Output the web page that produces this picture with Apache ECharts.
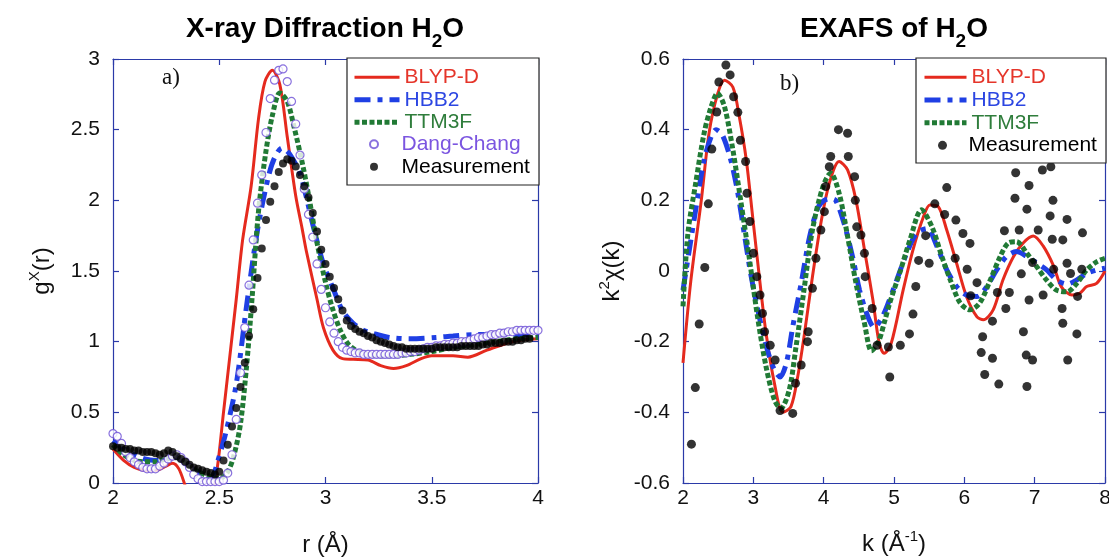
<!DOCTYPE html>
<html>
<head>
<meta charset="utf-8">
<script src="https://cdn.jsdelivr.net/npm/echarts@6/dist/echarts.min.js"></script>
<style>
  html, body { margin: 0; padding: 0; background: #ffffff; }
  #chart { width: 1109px; height: 557px; }
</style>
</head>
<body>
<div id="chart"></div>
<script>
// ---------- Panel a: X-ray diffraction, g(r) vs r (Å) ----------
const rTicks = [2, 2.5, 3, 3.5, 4];
const gTicks = [0, 0.5, 1, 1.5, 2, 2.5, 3];

const blypXrd = [[2.00,0.24],[2.05,0.16],[2.10,0.11],[2.15,0.09],[2.20,0.09],[2.25,0.12],[2.28,0.14],[2.31,0.10],[2.34,-0.02],[2.38,-0.18],[2.42,-0.22],[2.46,-0.10],[2.49,0.10],[2.52,0.50],[2.55,0.90],[2.58,1.30],[2.61,1.72],[2.65,2.10],[2.685,2.58],[2.715,2.84],[2.75,2.92],[2.785,2.82],[2.82,2.45],[2.86,2.03],[2.89,1.80],[2.91,1.64],[2.96,1.30],[2.99,1.10],[3.035,0.94],[3.08,0.88],[3.13,0.875],[3.20,0.87],[3.26,0.83],[3.32,0.81],[3.38,0.83],[3.45,0.88],[3.50,0.90],[3.60,0.90],[3.67,0.89],[3.76,0.94],[3.88,1.00],[4.00,1.02]];

const hbb2Xrd = [[2.00,0.30],[2.05,0.24],[2.10,0.20],[2.15,0.17],[2.20,0.16],[2.25,0.17],[2.30,0.18],[2.35,0.13],[2.40,0.08],[2.45,0.04],[2.47,0.05],[2.494,0.16],[2.53,0.35],[2.58,0.70],[2.63,1.27],[2.68,1.79],[2.73,2.16],[2.76,2.30],[2.795,2.37],[2.83,2.33],[2.88,2.19],[2.91,2.02],[2.94,1.83],[2.99,1.55],[3.035,1.38],[3.08,1.22],[3.13,1.13],[3.18,1.08],[3.22,1.06],[3.30,1.03],[3.40,1.02],[3.52,1.03],[3.60,1.04],[3.70,1.05],[3.80,1.05],[3.90,1.05],[4.00,1.05]];

const ttm3fXrd = [[2.00,0.27],[2.05,0.20],[2.10,0.16],[2.15,0.15],[2.20,0.15],[2.25,0.17],[2.30,0.18],[2.35,0.13],[2.40,0.08],[2.45,0.05],[2.50,0.03],[2.54,0.08],[2.57,0.20],[2.60,0.42],[2.63,0.85],[2.655,1.32],[2.675,1.75],[2.69,2.00],[2.72,2.35],[2.75,2.60],[2.785,2.76],[2.82,2.70],[2.855,2.50],[2.89,2.27],[2.92,2.04],[2.96,1.70],[3.00,1.42],[3.03,1.25],[3.07,1.08],[3.115,0.97],[3.19,0.91],[3.30,0.90],[3.40,0.91],[3.50,0.93],[3.60,0.96],[3.70,0.98],[3.80,1.00],[3.90,1.02],[4.00,1.03]];

const dangChangXrd = [[2.00,0.35],[2.02,0.33],[2.04,0.28],[2.06,0.22],[2.08,0.18],[2.10,0.15],[2.12,0.13],[2.14,0.11],[2.16,0.10],[2.18,0.10],[2.20,0.10],[2.22,0.12],[2.24,0.14],[2.26,0.17],[2.28,0.19],[2.30,0.20],[2.32,0.18],[2.34,0.15],[2.36,0.11],[2.38,0.06],[2.40,0.03],[2.42,0.01],[2.44,0.01],[2.46,0.01],[2.48,0.01],[2.50,0.01],[2.52,0.02],[2.54,0.07],[2.56,0.20],[2.58,0.45],[2.60,0.78],[2.62,1.10],[2.64,1.40],[2.66,1.72],[2.68,1.98],[2.70,2.18],[2.72,2.48],[2.74,2.72],[2.76,2.85],[2.78,2.92],[2.80,2.93],[2.82,2.84],[2.84,2.70],[2.86,2.54],[2.88,2.32],[2.90,2.08],[2.92,1.90],[2.94,1.74],[2.96,1.55],[2.98,1.37],[3.00,1.24],[3.02,1.14],[3.04,1.06],[3.06,1.00],[3.08,0.96],[3.10,0.94],[3.12,0.93],[3.14,0.92],[3.16,0.92],[3.18,0.91],[3.20,0.91],[3.22,0.91],[3.24,0.91],[3.26,0.91],[3.28,0.91],[3.30,0.91],[3.32,0.91],[3.34,0.91],[3.36,0.92],[3.38,0.92],[3.40,0.93],[3.42,0.93],[3.44,0.94],[3.46,0.95],[3.48,0.96],[3.50,0.96],[3.52,0.97],[3.54,0.97],[3.56,0.98],[3.58,0.98],[3.60,0.99],[3.62,0.99],[3.64,1.00],[3.66,1.00],[3.68,1.01],[3.70,1.02],[3.72,1.03],[3.74,1.03],[3.76,1.04],[3.78,1.05],[3.80,1.05],[3.82,1.06],[3.84,1.06],[3.86,1.07],[3.88,1.07],[3.90,1.08],[3.92,1.08],[3.94,1.08],[3.96,1.08],[3.98,1.08],[4.00,1.08]];

const measXrd = [[2.00,0.26],[2.02,0.25],[2.04,0.25],[2.06,0.24],[2.08,0.24],[2.10,0.23],[2.12,0.23],[2.14,0.22],[2.16,0.22],[2.18,0.22],[2.20,0.21],[2.22,0.20],[2.24,0.21],[2.26,0.23],[2.28,0.22],[2.30,0.19],[2.32,0.17],[2.34,0.15],[2.36,0.13],[2.38,0.11],[2.40,0.10],[2.42,0.09],[2.44,0.08],[2.46,0.07],[2.48,0.06],[2.50,0.08],[2.52,0.16],[2.54,0.27],[2.56,0.40],[2.58,0.53],[2.60,0.68],[2.62,0.85],[2.64,1.04],[2.66,1.23],[2.68,1.45],[2.70,1.66],[2.72,1.86],[2.74,1.99],[2.76,2.10],[2.78,2.20],[2.80,2.26],[2.82,2.29],[2.84,2.28],[2.86,2.24],[2.88,2.18],[2.90,2.10],[2.92,2.02],[2.94,1.91],[2.96,1.78],[2.98,1.65],[3.00,1.55],[3.02,1.46],[3.04,1.38],[3.06,1.30],[3.08,1.22],[3.10,1.15],[3.12,1.11],[3.14,1.09],[3.16,1.07],[3.18,1.06],[3.20,1.04],[3.22,1.03],[3.24,1.01],[3.26,1.00],[3.28,0.99],[3.30,0.98],[3.32,0.97],[3.34,0.96],[3.36,0.96],[3.38,0.95],[3.40,0.95],[3.42,0.95],[3.44,0.95],[3.46,0.95],[3.48,0.95],[3.50,0.95],[3.52,0.96],[3.54,0.96],[3.56,0.96],[3.58,0.96],[3.60,0.96],[3.62,0.96],[3.64,0.97],[3.66,0.97],[3.68,0.97],[3.70,0.97],[3.72,0.97],[3.74,0.98],[3.76,0.98],[3.78,0.99],[3.80,0.99],[3.82,0.99],[3.84,1.00],[3.86,1.00],[3.88,1.00],[3.90,1.01],[3.92,1.01],[3.94,1.02],[3.96,1.02]];

// ---------- Panel b: EXAFS, k^2 chi(k) vs k (Å^-1) ----------
const kTicks = [2, 3, 4, 5, 6, 7, 8];
const chiTicks = [-0.6, -0.4, -0.2, 0, 0.2, 0.4, 0.6];

const blypExafs = [[2.00,-0.26],[2.11,-0.03],[2.26,0.20],[2.37,0.39],[2.49,0.50],[2.59,0.54],[2.71,0.52],[2.80,0.437],[2.90,0.314],[2.99,0.154],[3.085,-0.016],[3.18,-0.175],[3.30,-0.318],[3.42,-0.40],[3.535,-0.384],[3.63,-0.30],[3.725,-0.18],[3.84,-0.017],[3.96,0.135],[4.08,0.248],[4.22,0.31],[4.34,0.286],[4.46,0.20],[4.58,0.06],[4.70,-0.082],[4.79,-0.205],[4.86,-0.233],[4.96,-0.205],[5.13,-0.054],[5.27,0.06],[5.42,0.154],[5.51,0.187],[5.63,0.182],[5.75,0.116],[5.89,0.022],[6.03,-0.072],[6.18,-0.13],[6.27,-0.138],[6.41,-0.11],[6.55,-0.025],[6.70,0.041],[6.84,0.08],[6.98,0.099],[7.12,0.071],[7.27,0.014],[7.38,-0.045],[7.53,-0.068],[7.64,-0.063],[7.74,-0.044],[7.88,-0.035],[8.00,0.00]];

const hbb2Exafs = [[2.00,-0.054],[2.09,0.06],[2.18,0.173],[2.30,0.314],[2.40,0.38],[2.47,0.40],[2.56,0.385],[2.68,0.314],[2.78,0.22],[2.87,0.107],[2.97,-0.016],[3.085,-0.13],[3.20,-0.224],[3.30,-0.28],[3.38,-0.30],[3.47,-0.26],[3.56,-0.158],[3.68,-0.035],[3.80,0.097],[3.92,0.18],[4.01,0.20],[4.09,0.205],[4.17,0.20],[4.29,0.135],[4.41,0.041],[4.51,-0.054],[4.63,-0.13],[4.72,-0.16],[4.82,-0.135],[4.90,-0.10],[5.04,-0.025],[5.18,0.05],[5.32,0.107],[5.47,0.12],[5.61,0.07],[5.75,0.003],[5.89,-0.044],[6.03,-0.068],[6.18,-0.072],[6.32,-0.044],[6.46,0.003],[6.60,0.041],[6.74,0.055],[6.89,0.041],[7.03,0.022],[7.17,0.003],[7.31,-0.025],[7.46,-0.037],[7.60,-0.025],[7.74,-0.007],[7.88,0.003],[8.00,0.008]];

const ttm3fExafs = [[2.00,-0.10],[2.07,0.107],[2.18,0.248],[2.30,0.39],[2.40,0.465],[2.49,0.503],[2.59,0.465],[2.71,0.342],[2.82,0.20],[2.94,0.04],[3.06,-0.13],[3.18,-0.27],[3.30,-0.365],[3.39,-0.389],[3.51,-0.337],[3.60,-0.224],[3.72,-0.054],[3.84,0.116],[3.99,0.239],[4.10,0.277],[4.22,0.22],[4.34,0.098],[4.46,-0.035],[4.58,-0.148],[4.68,-0.226],[4.78,-0.20],[4.87,-0.14],[4.94,-0.09],[5.09,0.00],[5.23,0.09],[5.39,0.173],[5.54,0.125],[5.68,0.041],[5.80,-0.025],[5.94,-0.09],[6.08,-0.11],[6.22,-0.09],[6.37,-0.025],[6.51,0.041],[6.63,0.08],[6.74,0.083],[6.89,0.05],[7.03,0.012],[7.17,-0.026],[7.31,-0.054],[7.46,-0.059],[7.60,-0.035],[7.74,0.003],[7.88,0.026],[8.00,0.036]];

const measExafs = [[2.12,-0.49],[2.175,-0.33],[2.23,-0.15],[2.31,0.01],[2.36,0.19],[2.41,0.345],[2.48,0.45],[2.51,0.535],[2.61,0.583],[2.67,0.555],[2.72,0.493],[2.78,0.449],[2.815,0.37],[2.89,0.31],[2.91,0.22],[2.95,0.14],[3.00,0.05],[3.05,-0.016],[3.095,-0.068],[3.13,-0.12],[3.16,-0.172],[3.24,-0.21],[3.31,-0.252],[3.38,-0.395],[3.56,-0.403],[3.60,-0.318],[3.68,-0.266],[3.77,-0.20],[3.78,-0.172],[3.84,-0.049],[3.89,0.036],[3.96,0.116],[4.01,0.168],[4.03,0.239],[4.08,0.295],[4.10,0.324],[4.21,0.40],[4.34,0.39],[4.35,0.324],[4.44,0.267],[4.45,0.20],[4.47,0.125],[4.53,0.102],[4.58,0.05],[4.59,-0.016],[4.69,-0.106],[4.76,-0.21],[4.92,-0.215],[4.94,-0.30],[5.09,-0.21],[5.22,-0.178],[5.27,-0.122],[5.31,-0.044],[5.35,0.03],[5.45,0.10],[5.50,0.022],[5.58,0.19],[5.72,0.16],[5.75,0.236],[5.87,0.036],[5.88,0.144],[5.98,0.106],[6.04,0.005],[6.08,0.078],[6.09,-0.07],[6.18,-0.033],[6.24,-0.231],[6.26,-0.186],[6.29,-0.293],[6.40,-0.142],[6.40,-0.247],[6.47,-0.061],[6.49,-0.32],[6.57,0.114],[6.59,-0.106],[6.64,-0.061],[6.72,0.206],[6.73,0.278],[6.78,0.116],[6.81,-0.008],[6.84,-0.172],[6.88,-0.238],[6.89,-0.327],[6.89,0.175],[6.92,0.242],[6.92,-0.082],[6.97,0.024],[6.97,-0.252],[7.05,0.116],[7.11,0.286],[7.12,-0.068],[7.22,0.156],[7.23,0.295],[7.25,0.09],[7.26,0.20],[7.27,0.005],[7.39,-0.106],[7.40,0.088],[7.40,-0.148],[7.46,0.146],[7.46,0.022],[7.47,-0.252],[7.51,-0.007],[7.60,-0.178],[7.61,-0.072],[7.67,0.005],[7.68,0.108]];

// ---------- styling ----------
const FONT = "'Liberation Sans', Arial, Helvetica, sans-serif";
const SERIF = "'Liberation Serif', 'Times New Roman', serif";
const AXIS_COLOR = '#2b3aa8';
const RED = '#e52a1e';
const BLUE = '#1f3fe4';
const GREEN = '#217a35';
const PURPLE = '#6c4ed6';
const BLACK = '#000000';

const LEG_RED = '#e5352a';
const LEG_BLUE = '#2c46e2';
const LEG_GREEN = '#2f7d3c';
const LEG_PURPLE = '#7b55e0';

const BLUE_DASH = [16, 7, 5, 7];
const GREEN_DASH = [5, 2.5];

const axisLineStyle = { show: true, onZero: false, lineStyle: { color: AXIS_COLOR, width: 1.2 } };
const axisTickStyle = { show: true, inside: true, length: 6, lineStyle: { color: AXIS_COLOR, width: 1.2 } };
const tickLabel = { color: '#111', fontSize: 21, fontFamily: FONT };
const nameStyle = { color: '#111', fontSize: 24, fontFamily: FONT };

function valueAxis(gridIndex, ticks, position, main, extra) {
  const ax = {
    gridIndex: gridIndex,
    type: 'value',
    position: position,
    min: ticks[0],
    max: ticks[ticks.length - 1],
    interval: ticks[1] - ticks[0],
    axisLine: axisLineStyle,
    axisTick: axisTickStyle,
    splitLine: { show: false },
    axisLabel: main
      ? Object.assign({ show: true, showMinLabel: true, showMaxLabel: true,
          formatter: v => String(Math.round(v * 10) / 10) }, tickLabel,
          (position === 'left') ? { margin: 13 } : { margin: 5 })
      : { show: false }
  };
  return Object.assign(ax, extra || {});
}

const supRich = {
  n: { fontSize: 24, fontFamily: FONT, color: '#111', lineHeight: 30 },
  sup: { fontSize: 15, fontFamily: FONT, color: '#111', lineHeight: 15, padding: [0, 0, 14, 0] }
};

const legendText = { fontSize: 21, fontFamily: FONT, lineHeight: 22.5 };

function lineLegendItems() {
  return [
    { name: 'BLYP-D', textStyle: { color: LEG_RED }, lineStyle: { color: RED, width: 3, type: 'solid' } },
    { name: 'HBB2', textStyle: { color: LEG_BLUE }, lineStyle: { color: BLUE, width: 5, type: BLUE_DASH } },
    { name: 'TTM3F', textStyle: { color: LEG_GREEN }, lineStyle: { color: GREEN, width: 5, type: GREEN_DASH } }
  ];
}

const titleRich = {
  t: { fontSize: 28, fontWeight: 'bold', fontFamily: FONT, fill: '#000', lineHeight: 28, verticalAlign: 'top' },
  s: { fontSize: 19, fontWeight: 'bold', fontFamily: FONT, fill: '#000', lineHeight: 19, padding: [25, 0, 0, 0] }
};

const option = {
  animation: false,
  backgroundColor: '#ffffff',
  grid: [
    { left: 113, top: 59, width: 425, height: 424, containLabel: false, outerBoundsMode: 'none' },
    { left: 683, top: 59, width: 422, height: 424, containLabel: false, outerBoundsMode: 'none' }
  ],
  xAxis: [
    valueAxis(0, rTicks, 'bottom', true, {
      name: 'r (Å)', nameLocation: 'middle', nameGap: 50, nameTextStyle: nameStyle
    }),
    valueAxis(0, rTicks, 'top', false),
    valueAxis(1, kTicks, 'bottom', true, {
      name: '{n|k (Å}{sup|-1}{n|)}', nameLocation: 'middle', nameGap: 46,
      nameTextStyle: Object.assign({ rich: supRich }, nameStyle)
    }),
    valueAxis(1, kTicks, 'top', false)
  ],
  yAxis: [
    valueAxis(0, gTicks, 'left', true, {
      name: '{n|g}{sup|X}{n|(r)}', nameLocation: 'middle', nameGap: 56,
      nameTextStyle: Object.assign({ rich: supRich }, nameStyle)
    }),
    valueAxis(0, gTicks, 'right', false),
    valueAxis(1, chiTicks, 'left', true, {
      name: '{n|k}{sup|2}{n|χ(k)}', nameLocation: 'middle', nameGap: 56,
      nameTextStyle: Object.assign({ rich: supRich }, nameStyle)
    }),
    valueAxis(1, chiTicks, 'right', false)
  ],
  legend: [
    {
      data: lineLegendItems(),
      orient: 'vertical', left: 352, top: 66, padding: 0, itemGap: 0,
      itemWidth: 45, itemHeight: 14, z: 60,
      itemStyle: { opacity: 0 },
      textStyle: legendText,
      selectedMode: false
    },
    {
      data: [
        { name: 'Dang-Chang', textStyle: { color: LEG_PURPLE } },
        { name: 'Measurement', textStyle: { color: BLACK } }
      ],
      orient: 'vertical', left: 369, top: 133, padding: 0, itemGap: 0,
      itemWidth: 45, itemHeight: 8, z: 60,
      textStyle: legendText,
      selectedMode: false
    },
    {
      data: lineLegendItems(),
      orient: 'vertical', left: 922, top: 66, padding: 0, itemGap: 0,
      itemWidth: 42, itemHeight: 14, z: 60,
      itemStyle: { opacity: 0 },
      textStyle: Object.assign({}, legendText, { lineHeight: 22.7 }),
      selectedMode: false
    },
    {
      data: [
        { name: 'Measurement', textStyle: { color: BLACK } }
      ],
      orient: 'vertical', left: 938, top: 134, padding: 0, itemGap: 0,
      itemWidth: 42, itemHeight: 9, z: 60,
      textStyle: Object.assign({}, legendText, { lineHeight: 22.7 }),
      selectedMode: false
    }
  ],
  graphic: [
    // legend frames
    { type: 'rect', z: 50, shape: { x: 347, y: 58, width: 192, height: 127 },
      style: { fill: '#ffffff', stroke: '#222', lineWidth: 1.2 } },
    { type: 'rect', z: 50, shape: { x: 916, y: 58, width: 190, height: 105 },
      style: { fill: '#ffffff', stroke: '#222', lineWidth: 1.2 } },
    // panel titles
    { type: 'text', z: 50, x: 325, y: 15,
      style: { text: '{t|X-ray Diffraction H}{s|2}{t|O}', align: 'center', verticalAlign: 'top', rich: titleRich } },
    { type: 'text', z: 50, x: 894, y: 15,
      style: { text: '{t|EXAFS of H}{s|2}{t|O}', align: 'center', verticalAlign: 'top', rich: titleRich } },
    // panel labels
    { type: 'text', z: 50, x: 162, y: 78,
      style: { text: 'a)', font: '23px ' + SERIF, fill: '#111', verticalAlign: 'middle' } },
    { type: 'text', z: 50, x: 780, y: 84,
      style: { text: 'b)', font: '23px ' + SERIF, fill: '#111', verticalAlign: 'middle' } }
  ],
  series: [
    // panel a
    { name: 'BLYP-D', type: 'line', xAxisIndex: 0, yAxisIndex: 0, data: blypXrd, smooth: 0.3,
      symbol: 'none', lineStyle: { color: RED, width: 3 }, itemStyle: { color: RED }, z: 3 },
    { name: 'HBB2', type: 'line', xAxisIndex: 0, yAxisIndex: 0, data: hbb2Xrd, smooth: 0.3,
      symbol: 'none', lineStyle: { color: BLUE, width: 5, type: BLUE_DASH }, itemStyle: { color: BLUE }, z: 3 },
    { name: 'TTM3F', type: 'line', xAxisIndex: 0, yAxisIndex: 0, data: ttm3fXrd, smooth: 0.3,
      symbol: 'none', lineStyle: { color: GREEN, width: 5, type: GREEN_DASH }, itemStyle: { color: GREEN }, z: 3 },
    { name: 'Dang-Chang', type: 'scatter', xAxisIndex: 0, yAxisIndex: 0, data: dangChangXrd,
      symbol: 'circle', symbolSize: 8,
      itemStyle: { color: '#ffffff', borderColor: PURPLE, borderWidth: 1.2 }, z: 4 },
    { name: 'Measurement', type: 'scatter', xAxisIndex: 0, yAxisIndex: 0, data: measXrd,
      symbol: 'circle', symbolSize: 8, itemStyle: { color: BLACK }, z: 5 },
    // panel b
    { name: 'BLYP-D', type: 'line', xAxisIndex: 2, yAxisIndex: 2, data: blypExafs, smooth: 0.3,
      symbol: 'none', lineStyle: { color: RED, width: 3 }, itemStyle: { color: RED }, z: 3 },
    { name: 'HBB2', type: 'line', xAxisIndex: 2, yAxisIndex: 2, data: hbb2Exafs, smooth: 0.3,
      symbol: 'none', lineStyle: { color: BLUE, width: 5, type: BLUE_DASH }, itemStyle: { color: BLUE }, z: 3 },
    { name: 'TTM3F', type: 'line', xAxisIndex: 2, yAxisIndex: 2, data: ttm3fExafs, smooth: 0.3,
      symbol: 'none', lineStyle: { color: GREEN, width: 5, type: GREEN_DASH }, itemStyle: { color: GREEN }, z: 3 },
    { name: 'Measurement', type: 'scatter', xAxisIndex: 2, yAxisIndex: 2, data: measExafs,
      symbol: 'circle', symbolSize: 9, itemStyle: { color: BLACK }, z: 5 }
  ]
};

const chart = echarts.init(document.getElementById('chart'), null, { renderer: 'canvas' });
chart.setOption(option);
</script>
</body>
</html>
